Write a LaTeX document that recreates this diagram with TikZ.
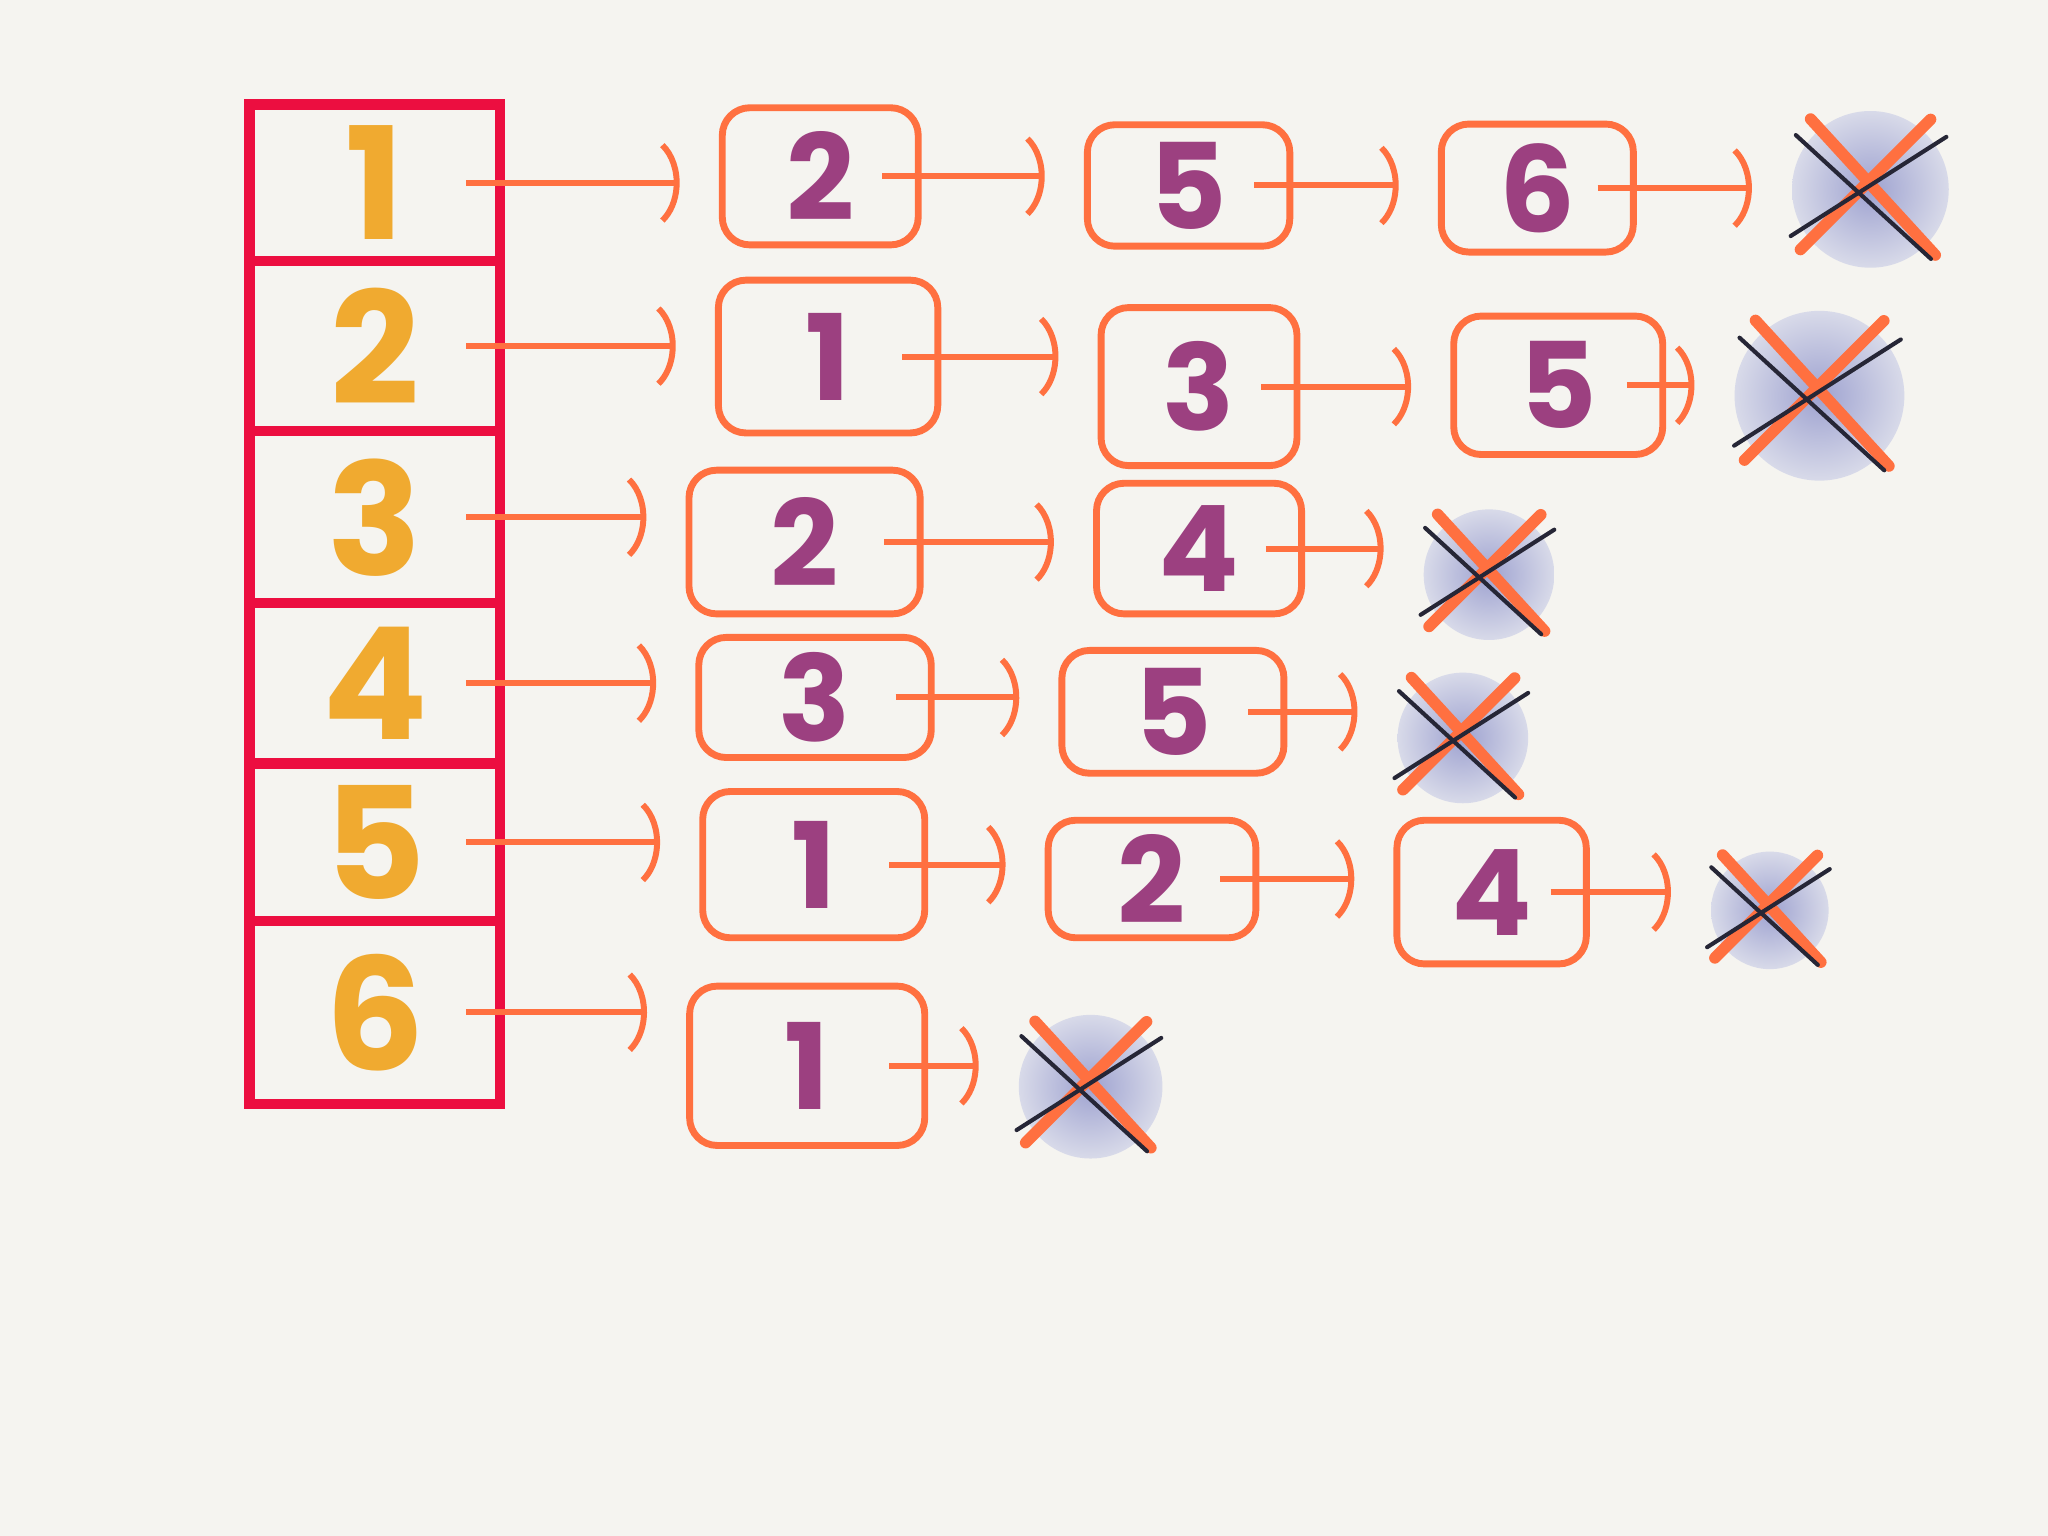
\documentclass[tikz,border=0pt]{standalone}
\usepackage{fontspec}
\newfontfamily\handfont{Poppins}
\usetikzlibrary{arrows.meta}
\definecolor{paper}{HTML}{F5F4F0}
\definecolor{cellred}{HTML}{EC0E40}
\definecolor{numyellow}{HTML}{F0AA30}
\definecolor{itempurple}{HTML}{9C4080}
\definecolor{linkorange}{HTML}{FF7040}
\definecolor{blobdark}{HTML}{9EA2D0}
\definecolor{bloblight}{HTML}{D8DAE9}
\definecolor{xdark}{HTML}{262636}
\tikzset{
>={Arc Barb[arc=110,width=7.5mm,length=2.8mm]},
  cell/.style={
    rectangle,
    draw=cellred, line width=2.2pt,
    minimum width=1.92cm,
    inner sep=0pt,
    text=numyellow,
    font=\handfont\bfseries\fontsize{34}{34}\selectfont},
  item/.style={
    rectangle,
    rounded corners=6pt,
    draw=linkorange, line width=1.5pt,
    inner sep=0pt,
    text=itempurple,
    font=\handfont\bfseries\fontsize{26}{26}\selectfont},
  link/.style={draw=linkorange, line width=1.3pt, ->, shorten <=-3mm, shorten >=3mm},
  blob/.style={circle, inner sep=0pt, minimum size=#1, inner color=blobdark, outer color=bloblight},
  cross/.style={draw=linkorange, line width=2.5pt, line cap=round, shorten <=-1mm, shorten >=-1mm},
  thincross/.style={draw=xdark, line width=0.9pt, line cap=round, shorten <=-1mm, shorten >=-1mm},
}
\begin{document}
\begin{tikzpicture}[x=1cm,y=-1cm]
\fill[paper] (0,0) rectangle (15.68,11.76);
\useasboundingbox (0,0) rectangle (15.68,11.76);
\foreach \n/\y/\h in {1/1.40/1.20, 2/2.65/1.30, 3/3.96/1.32, 4/5.23/1.23, 5/6.45/1.20, 6/7.75/1.40}
    \node[cell, minimum height=\h cm] (c\n) at (2.87,\y) {\n};
\foreach \nm/\x/\y/\w/\h/\t in {12/6.28/1.35/1.50/1.05/2, 15/9.10/1.42/1.55/0.93/5, 16/11.77/1.44/1.47/0.98/6,
    21/6.34/2.73/1.68/1.17/1, 23/9.18/2.96/1.50/1.21/3, 25/11.93/2.95/1.60/1.06/5,
    32/6.16/4.15/1.77/1.10/2, 34/9.18/4.20/1.57/1.00/4,
    43/6.24/5.34/1.78/0.92/3, 45/8.98/5.45/1.70/0.94/5,
    51/6.23/6.62/1.70/1.12/1, 52/8.82/6.73/1.59/0.90/2, 54/11.42/6.83/1.45/1.10/4,
    61/6.18/8.16/1.80/1.22/1}
    \node[item, minimum width=\w cm, minimum height=\h cm] (a\nm) at (\x,\y) {\t};
\foreach \n/\x/\y/\s in {1/14.32/1.45/1.2, 2/13.93/3.03/1.3, 3/11.40/4.40/1.0, 4/11.20/5.65/1.0, 5/13.55/6.97/0.9, 6/8.35/8.32/1.1}
    \node[blob=\s cm] (x\n) at (\x,\y) {};
\foreach \n in {1,...,6}{
    \draw[cross] (x\n.130) -- (x\n.-45);
    \draw[cross] (x\n.-140) -- (x\n.50);
    \draw[thincross] (x\n.145) -- (x\n.-50);
    \draw[thincross] (x\n.-150) -- (x\n.35);
    }
\foreach \a/\b in {c1/a12, a12/a15, a15/a16, a16/x1, c2/a21, a21/a23, a23/a25, a25/x2,
    c3/a32, a32/a34, a34/x3, c4/a43, a43/a45, a45/x4,
    c5/a51, a51/a52, a52/a54, a54/x5, c6/a61, a61/x6}
    \draw[link] (\a.east) -- (\a.east -| \b.west);
\end{tikzpicture}
\end{document}
